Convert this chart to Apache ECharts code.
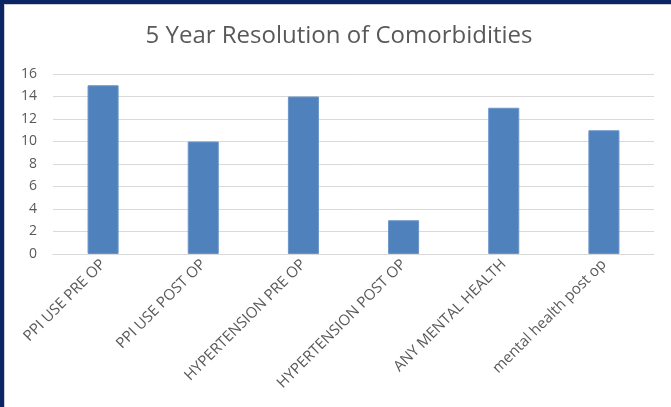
<!DOCTYPE html>
<html>
<head>
<meta charset="utf-8">
<script src="https://cdn.jsdelivr.net/npm/echarts@6/dist/echarts.min.js"></script>
<style>
  html, body { margin: 0; padding: 0; width: 671px; height: 407px; background: #0c2461; overflow: hidden; }
  #frame { position: absolute; left: 4px; top: 4px; width: 667px; height: 403px; background: #fff; border-left: 1px solid #c9cdd6; border-top: 1px solid #c9cdd6; box-sizing: border-box; }
  #chart { position: absolute; left: 1px; top: 1px; width: 666px; height: 402px; }
</style>
</head>
<body>
<div id="frame"><div id="chart"></div></div>
<script>
const title = "5 Year Resolution of Comorbidities";
const categories = ["PPI USE PRE OP", "PPI USE POST OP", "HYPERTENSION PRE OP", "HYPERTENSION POST OP", "ANY MENTAL HEALTH", "mental health post op"];
const values = [15, 10, 14, 3, 13, 11];
const yTicks = { min: 0, max: 16, interval: 2 };

const chart = echarts.init(document.getElementById('chart'), null, { renderer: 'canvas' });
chart.setOption({
  animation: false,
  backgroundColor: '#ffffff',
  title: {
    text: title,
    left: 'center',
    top: 13,
    textStyle: { fontFamily: 'Open Sans', fontSize: 24, fontWeight: 'normal', color: '#595959' }
  },
  grid: { left: 47, right: 18, top: 68, bottom: 154, containLabel: false },
  xAxis: {
    type: 'category',
    data: categories,
    axisLine: { show: true, lineStyle: { color: '#d9d9d9', width: 1 } },
    axisTick: { show: false },
    axisLabel: { rotate: 45, margin: 8, interval: 0, color: '#595959', fontFamily: 'Open Sans', fontSize: 15 }
  },
  yAxis: {
    type: 'value',
    min: yTicks.min, max: yTicks.max, interval: yTicks.interval,
    axisLine: { show: false },
    axisTick: { show: false },
    splitLine: { lineStyle: { color: '#d9d9d9', width: 1 } },
    axisLabel: { margin: 16, color: '#595959', fontFamily: 'Open Sans', fontSize: 14 }
  },
  series: [{
    type: 'bar',
    data: values,
    barWidth: '31%',
    itemStyle: { color: '#4f81bd', borderColor: '#6b95c9', borderWidth: 1 }
  }]
});
</script>
</body>
</html>
